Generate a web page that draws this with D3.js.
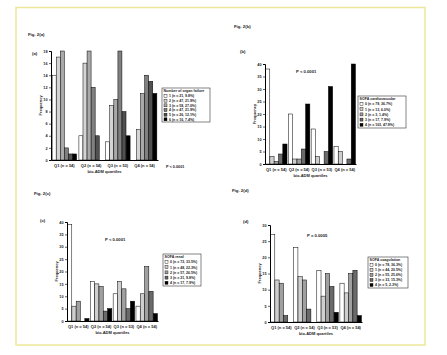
<!DOCTYPE html>
<html><head><meta charset="utf-8">
<script src="https://cdn.jsdelivr.net/npm/d3@7"></script>
<style>
html,body{margin:0;padding:0;background:#fff;}
text{font-family:"Liberation Sans",Arial,sans-serif;fill:#222;}
</style></head>
<body><svg id="c" width="447" height="355"></svg>
<script>
const categories = ["Q1 (n = 54)", "Q2 (n = 54)", "Q3 (n = 53)", "Q4 (n = 54)"];

const seriesA = ["1 (n = 21, 9.8%)", "2 (n = 47, 21.9%)", "3 (n = 58, 27.0%)", "4 (n = 47, 21.9%)", "5 (n = 26, 12.1%)", "6 (n = 16, 7.4%)"];
const valuesA = [ // [quartile][series]
  [14, 17, 18, 2, 1, 1],
  [4, 16, 18, 12, 4, 0],
  [3, 9, 10, 18, 8, 4],
  [0, 5, 11, 14, 13, 11]
];
const ticksA = [0, 2, 4, 6, 8, 10, 12, 14, 16, 18];

const seriesB = ["0 (n = 79, 36.7%)", "1 (n = 13, 6.0%)", "2 (n = 3, 1.4%)", "3 (n = 17, 7.9%)", "4 (n = 103, 47.9%)"];
const valuesB = [
  [38, 3, 1, 4, 8],
  [20, 2, 2, 6, 24],
  [14, 3, 0, 5, 31],
  [7, 5, 0, 2, 40]
];
const ticksB = [0, 5, 10, 15, 20, 25, 30, 35, 40];

const seriesC = ["0 (n = 72, 33.5%)", "1 (n = 48, 22.3%)", "2 (n = 57, 26.5%)", "3 (n = 21, 9.8%)", "4 (n = 17, 7.9%)"];
const valuesC = [
  [39, 6, 8, 0, 1],
  [16, 15, 14, 4, 5],
  [11, 16, 13, 5, 8],
  [6, 11, 22, 12, 3]
];
const ticksC = [0, 5, 10, 15, 20, 25, 30, 35, 40];

const seriesD = ["0 (n = 78, 36.3%)", "1 (n = 44, 20.5%)", "2 (n = 55, 25.6%)", "3 (n = 33, 15.3%)", "4 (n = 5, 2.3%)"];
const valuesD = [
  [27, 13, 12, 2, 0],
  [23, 14, 13, 4, 0],
  [16, 8, 15, 11, 3],
  [12, 9, 15, 16, 2]
];
const ticksD = [0, 5, 10, 15, 20, 25, 30];

const colors6 = ["#ffffff", "#d4d4d4", "#a9a9a9", "#808080", "#505050", "#000000"];
const colors5 = ["#ffffff", "#cfcfcf", "#a0a0a0", "#6a6a6a", "#000000"];

const svg = d3.select("#c");
svg.append("rect").attr("x", 16).attr("y", 7.5).attr("width", 409).attr("height", 337.5)
  .attr("fill", "#fff").attr("stroke", "#ece79a").attr("stroke-width", 1.5);

function panel(o) {
  const g = svg.append("g");
  const y = d3.scaleLinear().domain([0, o.ticks[o.ticks.length - 1]]).range([o.y0, o.y1]);
  const x0 = d3.scaleBand().domain(categories).range([o.xa, o.xb]).paddingInner(o.pi).paddingOuter(o.po);
  const x1 = d3.scaleBand().domain(d3.range(o.series.length)).range([0, x0.bandwidth()]).padding(0.02);
  const colors = o.series.length === 6 ? colors6 : colors5;

  categories.forEach((c, qi) => {
    g.selectAll(null).data(o.values[qi]).enter().append("rect")
      .attr("x", (d, i) => x0(c) + x1(i))
      .attr("y", d => y(d))
      .attr("width", x1.bandwidth())
      .attr("height", d => y(0) - y(d))
      .attr("fill", (d, i) => colors[i])
      .attr("stroke", d => d > 0 ? "#000" : "none")
      .attr("stroke-width", 0.5);
  });

  const ya = g.append("g").attr("transform", `translate(${o.xa},0)`)
    .call(d3.axisLeft(y).tickValues(o.ticks).tickSize(2).tickPadding(1.5));
  ya.select(".domain").attr("stroke-width", 1);
  ya.selectAll("line").attr("stroke-width", 0.6);
  ya.selectAll("text").style("font-size", "3.8px").style("font-weight", "bold");

  const xa = g.append("g").attr("transform", `translate(0,${o.y0})`)
    .call(d3.axisBottom(x0).tickSize(0).tickPadding(4));
  xa.select(".domain").attr("stroke-width", 1);
  xa.selectAll("text").style("font-size", "4px").style("font-weight", "bold");

  g.append("text").attr("x", (o.xa + o.xb) / 2).attr("y", o.y0 + 13).attr("text-anchor", "middle")
    .style("font-size", "4px").style("font-weight", "bold").text("bio-ADM quartiles");
  g.append("text").attr("transform", `translate(${o.xa - 9.5},${(o.y0 + o.y1) / 2}) rotate(-90)`)
    .attr("text-anchor", "middle").style("font-size", "4px").style("font-weight", "bold").text("Frequency");

  g.append("text").attr("x", o.figX).attr("y", o.figY).style("font-size", "4.3px").style("font-weight", "bold").text(o.fig);
  g.append("text").attr("x", o.subX).attr("y", o.subY).style("font-size", "4.3px").style("font-weight", "bold").text(o.sub);
  g.append("text").attr("x", o.pX).attr("y", o.pY).style("font-size", o.pSize + "px").style("font-weight", "bold").text(o.p);

  const lg = g.append("g").attr("transform", `translate(${o.lx},${o.ly})`);
  const rowH = (o.lh - 6) / o.series.length;
  lg.append("rect").attr("width", o.lw).attr("height", o.lh).attr("fill", "#fff").attr("stroke", "#333").attr("stroke-width", 0.6);
  lg.append("text").attr("x", 1.5).attr("y", 4).style("font-size", "3.6px").style("font-weight", "bold").text(o.title);
  o.series.forEach((s, i) => {
    const yy = 6 + i * rowH;
    lg.append("rect").attr("x", 2).attr("y", yy + 0.5).attr("width", 3).attr("height", 3)
      .attr("fill", colors[i]).attr("stroke", "#000").attr("stroke-width", 0.4);
    lg.append("text").attr("x", 7).attr("y", yy + 3.3).style("font-size", "3.5px").style("font-weight", "bold").text(s);
  });
}

panel({series: seriesA, values: valuesA, ticks: ticksA, xa: 51, xb: 158, y0: 160, y1: 51, pi: 0.08, po: 0.04,
  fig: "Fig. 2(a)", figX: 28, figY: 36, sub: "(a)", subX: 32, subY: 55, p: "P < 0.0001", pX: 166, pY: 167.5, pSize: 3.8,
  title: "Number of organ failure", lx: 162, ly: 88, lw: 48, lh: 34});
panel({series: seriesB, values: valuesB, ticks: ticksB, xa: 265, xb: 356, y0: 164, y1: 64, pi: 0.05, po: 0.02,
  fig: "Fig. 2(b)", figX: 234, figY: 28, sub: "(b)", subX: 240, subY: 53, p: "P < 0.0001", pX: 296, pY: 73, pSize: 4.2,
  title: "SOFA cardiovascular", lx: 358, ly: 96, lw: 48, lh: 32});
panel({series: seriesC, values: valuesC, ticks: ticksC, xa: 67, xb: 158, y0: 321, y1: 222, pi: 0.05, po: 0.02,
  fig: "Fig. 2(c)", figX: 34, figY: 195, sub: "(c)", subX: 40, subY: 222, p: "P < 0.0001", pX: 105, pY: 241, pSize: 4.2,
  title: "SOFA renal", lx: 163, ly: 254, lw: 38, lh: 32});
panel({series: seriesD, values: valuesD, ticks: ticksD, xa: 270, xb: 362, y0: 322, y1: 225, pi: 0.06, po: 0.02,
  fig: "Fig. 2(d)", figX: 232, figY: 192, sub: "(d)", subX: 243, subY: 223, p: "P = 0.0005", pX: 307, pY: 237, pSize: 4.2,
  title: "SOFA coagulation", lx: 368, ly: 257, lw: 40, lh: 31});
</script></body></html>
